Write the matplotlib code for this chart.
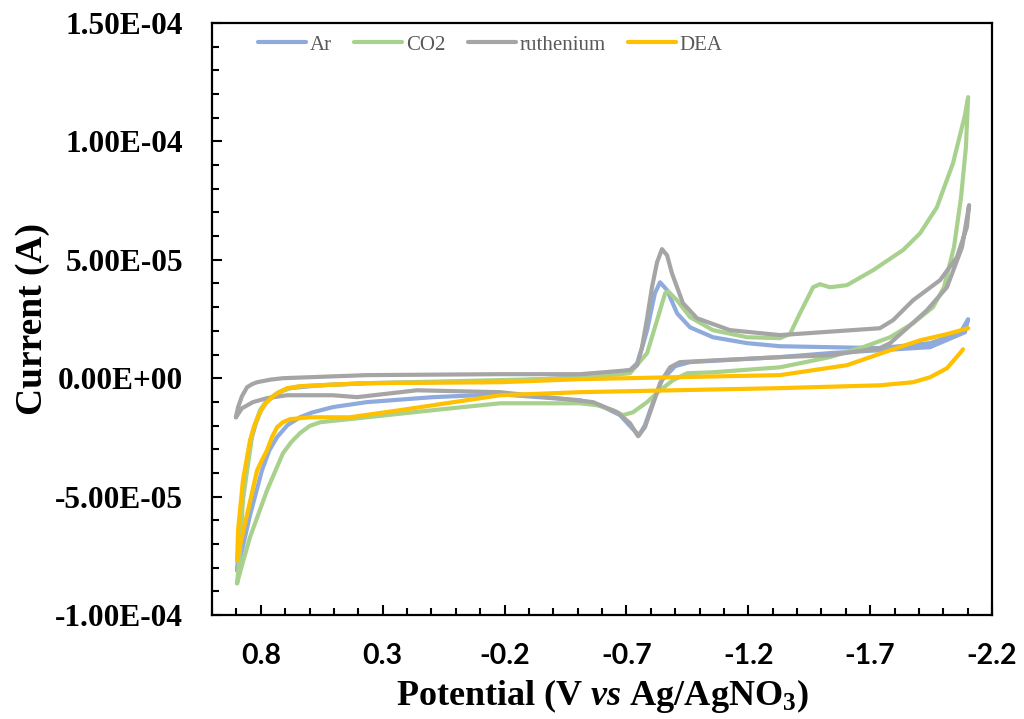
import numpy as np
import matplotlib
matplotlib.use("Agg")
import matplotlib.pyplot as plt
from matplotlib.ticker import FixedLocator, MultipleLocator, FuncFormatter

# potential (V vs Ag/AgNO3) and current (in units of 1e-5 A)
ar_v = [0.897, 0.885, 0.869, 0.840, 0.820, 0.799, 0.775, 0.746, 0.715, 0.680, 0.557, 0.364,
        -0.182, -0.510, -0.715, -0.744, -0.764, -0.785, -0.817, -0.838, -0.867, -0.908,
        -0.961, -1.055, -1.195, -1.330, -1.740, -1.946, -2.069, -2.102, -2.089, -1.946,
        -1.740, -1.535, -1.330, -0.961, -0.900, -0.846, -0.805, -0.776, -0.752, -0.723,
        -0.674, -0.592, -0.510, -0.182, 0.093, 0.364, 0.504, 0.590, 0.639, 0.690, 0.733,
        0.765, 0.795, 0.844, 0.877, 0.897]
ar_i = [-8.11, -6.42, -4.31, -2.62, -1.90, -1.35, -0.98, -0.76, -0.55, -0.42, -0.30, -0.21,
        -0.13, 0.04, 0.34, 0.63, 1.27, 2.03, 3.59, 4.05, 3.72, 2.74,
        2.15, 1.73, 1.48, 1.35, 1.27, 1.48, 1.90, 2.49, 1.94, 1.31,
        1.18, 1.06, 0.89, 0.68, 0.51, -0.08, -1.14, -1.99, -2.41, -2.11,
        -1.56, -1.14, -0.93, -0.68, -0.80, -1.01, -1.22, -1.45, -1.65, -1.98, -2.49,
        -3.05, -3.89, -5.79, -7.26, -8.11]

co2_v = [0.897, 0.885, 0.873, 0.856, 0.832, 0.803, 0.774, 0.733, 0.690, 0.639, 0.364,
         -0.182, -0.510, -0.715, -0.785, -0.826, -0.859, -0.871, -0.908, -0.961, -1.055,
         -1.195, -1.330, -1.371, -1.412, -1.466, -1.494, -1.535, -1.605, -1.712, -1.835,
         -1.905, -1.974, -2.040, -2.089, -2.102, -2.093, -2.073, -2.044, -2.003, -1.958,
         -1.876, -1.782, -1.671, -1.535, -1.330, -1.055, -0.949, -0.892, -0.838, -0.785,
         -0.727, -0.686, -0.645, -0.579, -0.510, -0.182, 0.093, 0.364, 0.557, 0.600, 0.639,
         0.675, 0.709, 0.774, 0.844, 0.877, 0.897]
co2_i = [-8.66, -7.26, -5.15, -3.89, -2.20, -1.35, -0.93, -0.63, -0.45, -0.34, -0.21,
         -0.08, 0.00, 0.21, 1.06, 2.45, 3.59, 3.67, 3.29, 2.58, 2.03,
         1.73, 1.69, 1.86, 2.74, 3.84, 3.97, 3.84, 3.93, 4.56, 5.41,
         6.12, 7.22, 9.08, 11.11, 11.87, 9.76, 7.64, 5.53, 3.84, 3.00,
         2.32, 1.73, 1.31, 0.89, 0.46, 0.25, 0.21, -0.08, -0.51, -1.01,
         -1.44, -1.56, -1.35, -1.14, -1.06, -1.06, -1.35, -1.65, -1.86, -2.02, -2.32,
         -2.70, -3.17, -4.73, -6.71, -7.90, -8.66]

ru_v = [0.902, 0.893, 0.877, 0.856, 0.835, 0.815, 0.760, 0.709, 0.364, -0.182, -0.510,
        -0.715, -0.744, -0.764, -0.785, -0.805, -0.826, -0.846, -0.867, -0.887, -0.932,
        -0.990, -1.125, -1.330, -1.740, -1.794, -1.876, -1.987, -2.056, -2.097, -2.106,
        -2.077, -2.015, -1.933, -1.851, -1.782, -1.740, -1.535, -1.330, -0.920, -0.879,
        -0.838, -0.805, -0.776, -0.748, -0.715, -0.662, -0.563, -0.182, 0.159, 0.405,
        0.504, 0.692, 0.774, 0.832, 0.877, 0.902]
ru_i = [-1.65, -1.22, -0.76, -0.38, -0.25, -0.17, -0.06, 0.00, 0.13, 0.17, 0.17,
        0.34, 0.55, 1.31, 2.53, 3.84, 4.90, 5.45, 5.19, 4.43, 3.17,
        2.53, 2.03, 1.82, 2.11, 2.45, 3.29, 4.14, 5.11, 6.38, 7.31,
        5.53, 3.84, 2.87, 2.11, 1.48, 1.27, 0.97, 0.89, 0.68, 0.46,
        -0.21, -1.22, -2.07, -2.45, -1.90, -1.44, -1.01, -0.59, -0.51, -0.80,
        -0.72, -0.72, -0.84, -1.01, -1.27, -1.65]

dea_v = [-2.081, -2.069, -2.015, -1.946, -1.876, -1.740, -1.330, -0.510, -0.182, 0.229,
         0.434, 0.598, 0.680, 0.709, 0.733, 0.754, 0.774, 0.795, 0.815, 0.852, 0.885, 0.897,
         0.893, 0.873, 0.844, 0.824, 0.803, 0.783, 0.754, 0.725, 0.692, 0.639, 0.569, 0.364,
         -0.182, -0.510, -1.330, -1.605, -1.782, -1.905, -2.015, -2.102]
dea_i = [1.22, 1.06, 0.42, 0.04, -0.17, -0.30, -0.42, -0.59, -0.72, -1.35,
         -1.65, -1.65, -1.73, -1.86, -2.07, -2.49, -3.04, -3.46, -3.89, -5.57, -7.05, -7.69,
         -6.42, -4.31, -2.62, -1.94, -1.44, -1.10, -0.80, -0.59, -0.42, -0.34, -0.30, -0.21,
         -0.17, -0.04, 0.13, 0.55, 1.18, 1.60, 1.86, 2.11]

labels = ["Ar", "CO2", "ruthenium", "DEA"]
colors = ["#8FAADC", "#A9D18E", "#A5A5A5", "#FFC000"]
x_ticks = [0.8, 0.3, -0.2, -0.7, -1.2, -1.7, -2.2]

plt.rcParams["mathtext.fontset"] = "custom"
plt.rcParams["mathtext.rm"] = "Liberation Serif:bold"
plt.rcParams["mathtext.it"] = "Liberation Serif:italic:bold"
plt.rcParams["mathtext.bf"] = "Liberation Serif:bold"

fig = plt.figure(figsize=(10.24, 7.19), dpi=100)
ax = fig.add_axes([212 / 1024, 1 - 615 / 719, 780 / 1024, 592 / 719])

for v, i, lab, c in zip([ar_v, co2_v, ru_v, dea_v], [ar_i, co2_i, ru_i, dea_i],
                        labels, colors):
    ax.plot(v, np.array(i) * 1e-5, color=c, lw=3.0, label=lab,
            solid_joinstyle="round", solid_capstyle="round")

ax.set_xlim(1.0, -2.2)
ax.set_ylim(-1.0e-4, 1.5e-4)

ax.xaxis.set_major_locator(FixedLocator(x_ticks))
ax.xaxis.set_minor_locator(MultipleLocator(0.1))
ax.yaxis.set_major_locator(MultipleLocator(5e-5))
ax.yaxis.set_minor_locator(MultipleLocator(1e-5))
ax.xaxis.set_major_formatter(FuncFormatter(lambda v, p: f"{v:.1f}"))
ax.yaxis.set_major_formatter(FuncFormatter(lambda v, p: f"{v:.2E}"))

ax.tick_params(axis="both", which="both", direction="in", top=False, right=False,
               width=1.5, color="black")
ax.tick_params(axis="both", which="major", length=7)
ax.tick_params(axis="both", which="minor", length=5)
ax.tick_params(axis="x", which="major", pad=20)
ax.tick_params(axis="y", which="major", pad=21)

for lbl in ax.get_xticklabels():
    lbl.set_fontfamily("Lato")
    lbl.set_fontweight("bold")
    lbl.set_fontsize(20.5)
for lbl in ax.get_yticklabels():
    lbl.set_fontfamily("Liberation Serif")
    lbl.set_fontweight("bold")
    lbl.set_fontsize(22.5)

for sp in ax.spines.values():
    sp.set_linewidth(1.6)
    sp.set_color("black")

ax.set_xlabel(r"Potential (V $\it{vs}$ Ag/AgNO$_3$)", family="Liberation Serif",
              fontweight="bold", fontsize=26)
ax.xaxis.set_label_coords(0.5, -0.104)
ax.set_ylabel("Current (A)", family="Liberation Serif", fontweight="bold",
              fontsize=27)
ax.yaxis.set_label_coords(-0.208, 0.5)

leg = ax.legend(loc="center", bbox_to_anchor=(0.357, 0.963), ncol=4, frameon=False,
                prop={"family": "Liberation Serif", "size": 15},
                handlelength=2.3, handletextpad=0.2, columnspacing=1.05,
                borderpad=0)
for t in leg.get_texts():
    t.set_color("#595959")

fig.savefig("out.png", dpi=100)
